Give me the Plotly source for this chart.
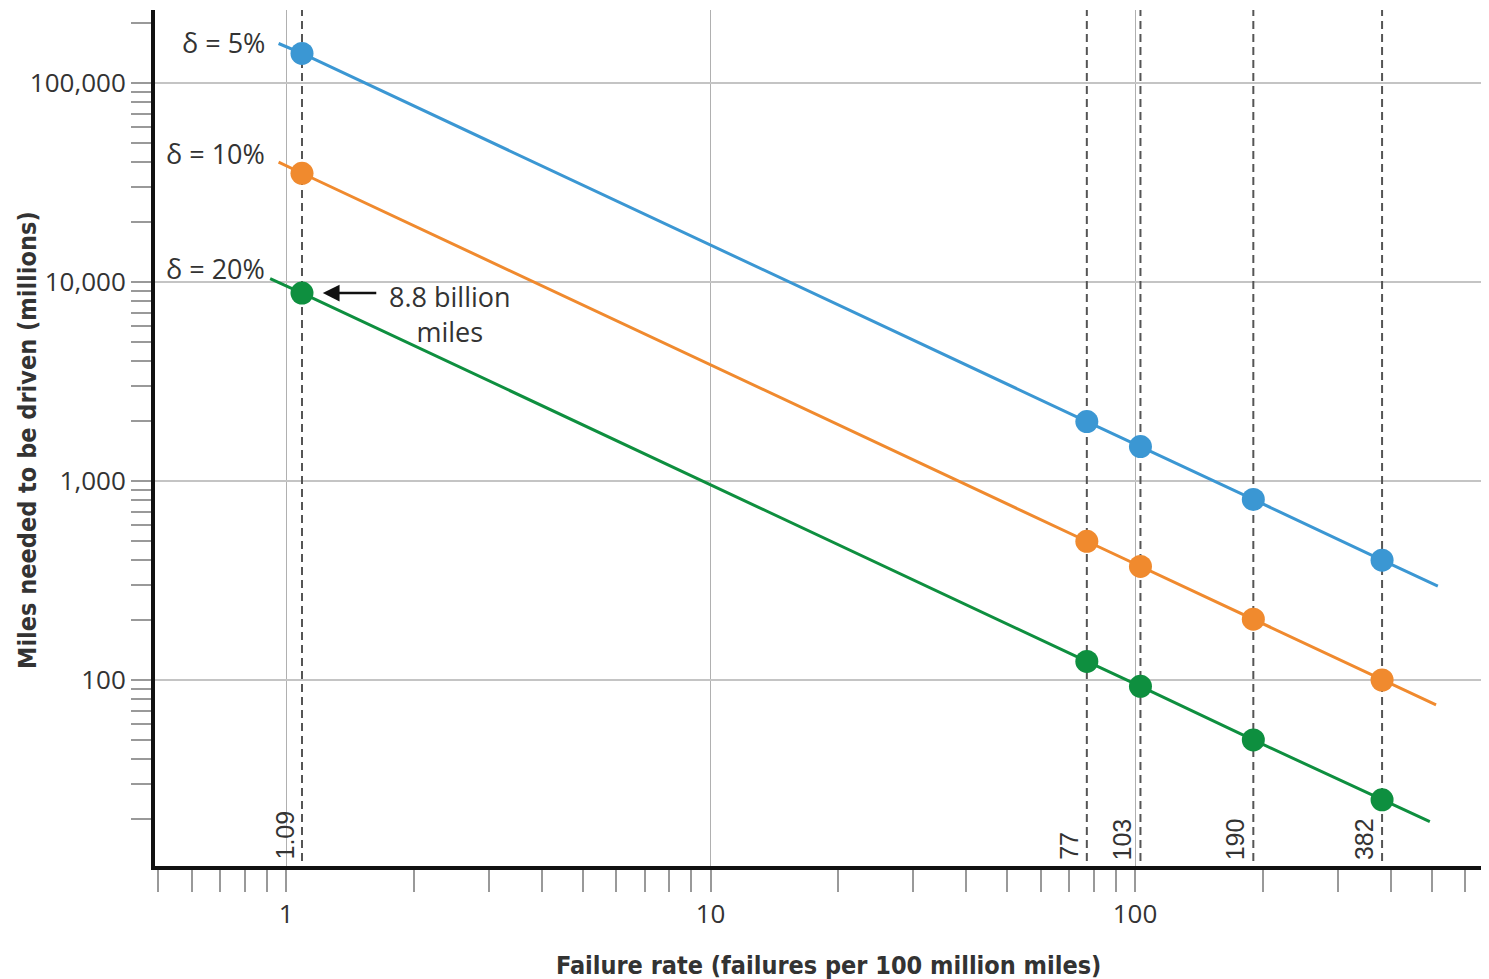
import math
import plotly.graph_objects as go

# ---- data ----
failure_rates = [1.09, 77, 103, 190, 382]
failure_labels = ["1.09", "77", "103", "190", "382"]
miles_d5 = [140800, 1990, 1490, 808, 400]
miles_d10 = [35200, 498, 372, 202, 100]
miles_d20 = [8800, 124, 93, 50, 25]
series_names = ["δ = 5%", "δ = 10%", "δ = 20%"]
# line extents (where each line starts / ends on the chart)
d5_line_x = [0.96, 517]
d5_line_y = [158000, 296]
d10_line_x = [0.96, 512]
d10_line_y = [40000, 75]
d20_line_x = [0.917, 495]
d20_line_y = [10400, 19.4]
x_major = [1, 10, 100]
x_major_text = ["1", "10", "100"]
x_minor = [0.5, 0.6, 0.7, 0.8, 0.9, 2, 3, 4, 5, 6, 7, 8, 9,
           20, 30, 40, 50, 60, 70, 80, 90, 200, 300, 400, 500, 600]
y_major = [100, 1000, 10000, 100000]
y_major_text = ["100", "1,000", "10,000", "100,000"]
y_minor = [20, 30, 40, 50, 60, 70, 80, 90,
           200, 300, 400, 500, 600, 700, 800, 900,
           2000, 3000, 4000, 5000, 6000, 7000, 8000, 9000,
           20000, 30000, 40000, 50000, 60000, 70000, 80000, 90000, 200000]
highlight_value = 8800
highlight_text = "8.8 billion<br>miles"

colors = ["#3b97d3", "#f08a2e", "#0e8f3f"]
series = [
    (miles_d5, d5_line_x, d5_line_y),
    (miles_d10, d10_line_x, d10_line_y),
    (miles_d20, d20_line_x, d20_line_y),
]

fig = go.Figure()

# dashed reference verticals
for fr in failure_rates:
    fig.add_trace(go.Scatter(
        x=[fr, fr], y=[5, 500000], mode="lines",
        line=dict(color="#555555", width=2, dash="8px,5px"),
        hoverinfo="skip", showlegend=False))

for (vals, lx, ly), col, name in zip(series, colors, series_names):
    xs = [lx[0]] + failure_rates + [lx[1]]
    ys = [ly[0]] + vals + [ly[1]]
    fig.add_trace(go.Scatter(x=xs, y=ys, mode="lines",
                             line=dict(color=col, width=3),
                             showlegend=False, hoverinfo="skip"))
    fig.add_trace(go.Scatter(x=failure_rates, y=vals, mode="markers",
                             marker=dict(color=col, size=23),
                             name=name, showlegend=False))

tick_font = dict(family="Open Sans, sans-serif", size=26, color="#333333")
title_font = dict(family="Liberation Sans Narrow, DejaVu Sans Condensed, sans-serif",
                  size=25, color="#333333")

fig.update_xaxes(
    type="log", range=[math.log10(0.491), 2.834],
    tickmode="array", tickvals=x_major, ticktext=x_major_text,
    ticks="outside", ticklen=22, tickwidth=1.5, tickcolor="#999999",
    showgrid=True, gridcolor="#b0b0b0", gridwidth=1,
    showline=True, linecolor="#111111", linewidth=4,
    zeroline=False, tickfont=tick_font,
    minor=dict(tickmode="array", tickvals=x_minor, ticks="outside",
               ticklen=22, tickwidth=1.5, tickcolor="#999999", showgrid=False),
)
fig.update_yaxes(
    type="log", range=[1.0653, 5.367],
    tickmode="array", tickvals=y_major, ticktext=y_major_text,
    ticks="outside", ticklen=20, tickwidth=1.5, tickcolor="#999999",
    showgrid=True, gridcolor="#c4c4c4", gridwidth=1.5,
    showline=True, linecolor="#111111", linewidth=4,
    zeroline=False, tickfont=tick_font,
    minor=dict(tickmode="array", tickvals=y_minor, ticks="outside",
               ticklen=20, tickwidth=1.5, tickcolor="#999999", showgrid=False),
)

annotations = []
# series labels
label_y = [159000, 44000, 11750]
for name, ly in zip(series_names, label_y):
    annotations.append(dict(x=math.log10(0.9), y=math.log10(ly), xref="x", yref="y",
                            text=name, showarrow=False, xanchor="right", yanchor="middle",
                            font=dict(family="Open Sans, sans-serif", size=27, color="#333333")))
# vertical value labels
for fr, lab in zip(failure_rates, failure_labels):
    annotations.append(dict(x=math.log10(fr), y=0, xref="x", yref="paper",
                            text=lab, textangle=-90, showarrow=False,
                            xanchor="right", yanchor="bottom", xshift=-2, yshift=4,
                            font=dict(family="Liberation Sans, Arial, sans-serif", size=25,
                                      color="#333333")))
# arrow + text
annotations.append(dict(x=math.log10(1.22), y=math.log10(highlight_value), xref="x", yref="y",
                        ax=55, ay=0, text="", showarrow=True, arrowhead=2, arrowsize=1.4,
                        arrowwidth=2.4, arrowcolor="#111111"))
annotations.append(dict(x=math.log10(2.43), y=math.log10(highlight_value), xref="x", yref="y",
                        text=highlight_text, showarrow=False, xanchor="center", yanchor="middle",
                        yshift=-21,
                        font=dict(family="Open Sans, sans-serif", size=27, color="#333333")))
# axis titles
annotations.append(dict(x=0.5045, y=-0.1157, xref="paper", yref="paper",
                        text="<b>Failure rate (failures per 100 million miles)</b>",
                        showarrow=False, xanchor="center", yanchor="middle", font=title_font))
annotations.append(dict(x=-0.0952, y=0.4977, xref="paper", yref="paper",
                        text="<b>Miles needed to be driven (millions)</b>", textangle=-90,
                        showarrow=False, xanchor="center", yanchor="middle", font=title_font))

fig.update_layout(
    width=1481, height=971,
    margin=dict(l=147, r=0, t=2, b=113),
    plot_bgcolor="white", paper_bgcolor="white",
    annotations=annotations, showlegend=False,
)

fig.write_html("out.html")
